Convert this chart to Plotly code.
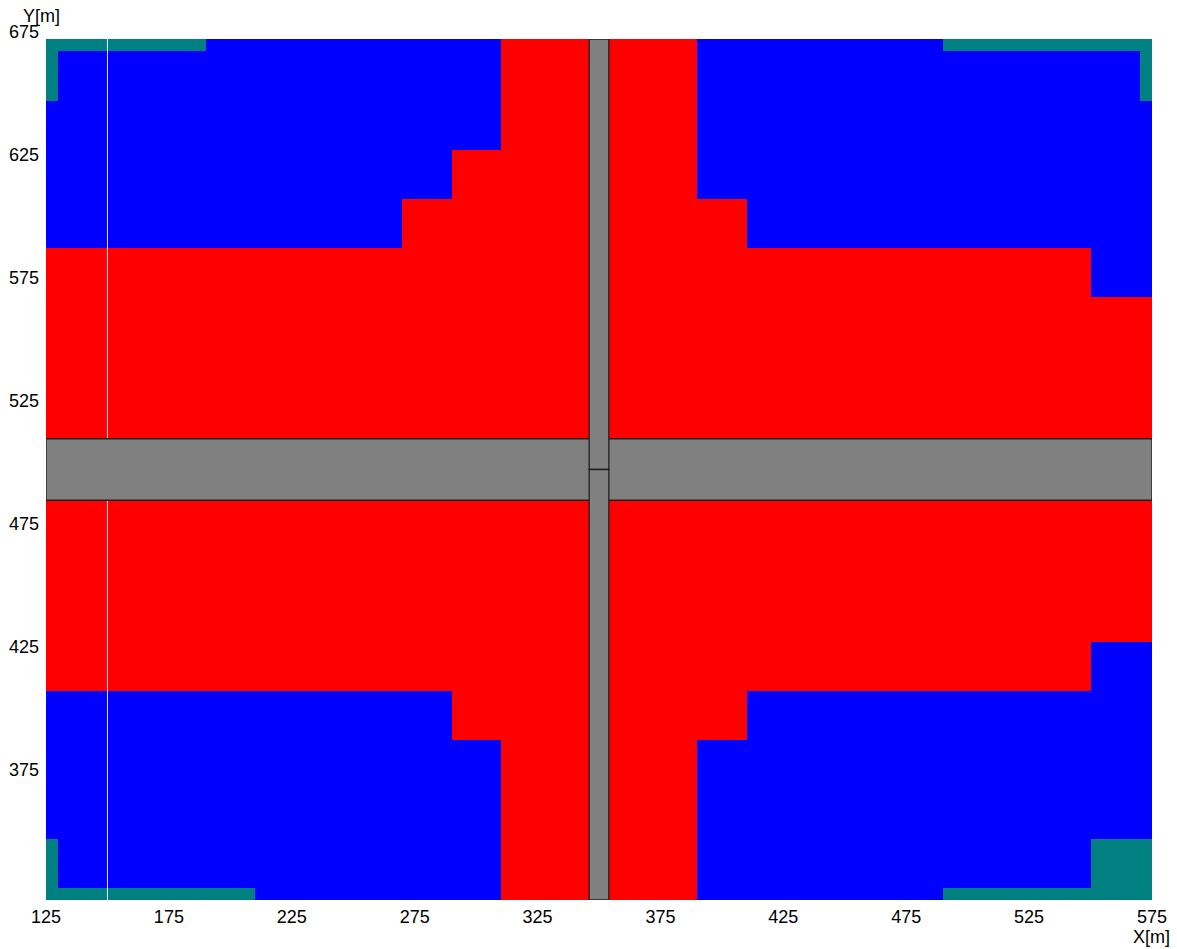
import plotly.graph_objects as go

# ---- data ----
x_centers = [120, 140, 160, 180, 200, 220, 240, 260, 280, 300, 320, 340,
             360, 380, 400, 420, 440, 460, 480, 500, 520, 540, 560, 580]
y_centers = [680, 660, 640, 620, 600, 580, 560, 540, 520, 500,
             480, 460, 440, 420, 400, 380, 360, 340, 320]
# zone code per cell: B = blue, R = red, T = teal
zone_rows = [
    "TTTTBBBBBBRRRRBBBBBTTTTT",  # 680
    "TBBBBBBBBBRRRRBBBBBBBBBT",  # 660
    "BBBBBBBBBBRRRRBBBBBBBBBB",  # 640
    "BBBBBBBBBRRRRRBBBBBBBBBB",  # 620
    "BBBBBBBBRRRRRRRBBBBBBBBB",  # 600
    "RRRRRRRRRRRRRRRRRRRRRRBB",  # 580
    "RRRRRRRRRRRRRRRRRRRRRRRR",  # 560
    "RRRRRRRRRRRRRRRRRRRRRRRR",  # 540
    "RRRRRRRRRRRRRRRRRRRRRRRR",  # 520
    "RRRRRRRRRRRRRRRRRRRRRRRR",  # 500
    "RRRRRRRRRRRRRRRRRRRRRRRR",  # 480
    "RRRRRRRRRRRRRRRRRRRRRRRR",  # 460
    "RRRRRRRRRRRRRRRRRRRRRRRR",  # 440
    "RRRRRRRRRRRRRRRRRRRRRRBB",  # 420
    "BBBBBBBBBRRRRRRBBBBBBBBB",  # 400
    "BBBBBBBBBBRRRRBBBBBBBBBB",  # 380
    "BBBBBBBBBBRRRRBBBBBBBBBB",  # 360
    "TBBBBBBBBBRRRRBBBBBBBBTT",  # 340
    "TTTTTBBBBBRRRRBBBBBTTTTT",  # 320
]
zone_codes = {"B": 0, "R": 1, "T": 2}

x_ticks = [125, 175, 225, 275, 325, 375, 425, 475, 525, 575]
y_ticks = [375, 425, 475, 525, 575, 625, 675]
x_range = [125, 575]
y_range = [325, 675]

# roads (x0, x1, y0, y1)
road_horizontal = [(125, 575, 487.5, 512.5)]
road_vertical = [(346, 354, 500, 675), (346, 354, 325, 500)]
white_line_x = [150]

z = [[zone_codes[c] for c in row] for row in zone_rows]

colorscale = [[0, "#0000FF"], [1/3, "#0000FF"],
              [1/3, "#FF0000"], [2/3, "#FF0000"],
              [2/3, "#008080"], [1, "#008080"]]

fig = go.Figure()
fig.add_trace(go.Heatmap(x=x_centers, y=y_centers, z=z, zmin=-0.5, zmax=2.5,
                         colorscale=colorscale, showscale=False,
                         hoverinfo="skip"))

for xv in white_line_x:
    fig.add_shape(type="line", x0=xv, x1=xv, y0=y_range[0], y1=y_range[1],
                  line=dict(color="#E8E8FF", width=1))
for (x0, x1, y0, y1) in road_horizontal:
    fig.add_shape(type="rect", x0=x0, x1=x1, y0=y0, y1=y1,
                  fillcolor="#808080", line=dict(color="#202020", width=1.3))
for (x0, x1, y0, y1) in road_vertical:
    fig.add_shape(type="rect", x0=x0, x1=x1, y0=y0, y1=y1,
                  fillcolor="#808080", line=dict(color="#202020", width=1.3))

font = dict(family="Arial, Liberation Sans, sans-serif", size=18, color="#000000")

fig.update_xaxes(range=x_range, tickvals=x_ticks, ticktext=[str(v) for v in x_ticks],
                 showgrid=False, zeroline=False, ticks="", showline=False,
                 tickfont=font, automargin=False, ticklabelstandoff=4)
fig.update_yaxes(range=y_range, tickvals=y_ticks, ticktext=[str(v) for v in y_ticks],
                 showgrid=False, zeroline=False, ticks="", showline=False,
                 tickfont=font, ticklabelshift=-7, ticklabelstandoff=6,
                 automargin=False)

fig.add_annotation(text="Y[m]", xref="paper", yref="paper", x=0, y=1,
                   xanchor="center", yanchor="middle", xshift=-5, yshift=23,
                   showarrow=False, font=font)
fig.add_annotation(text="X[m]", xref="paper", yref="paper", x=1, y=0,
                   xanchor="center", yanchor="middle", xshift=-1, yshift=-37,
                   showarrow=False, font=font)

fig.update_layout(width=1177, height=949, margin=dict(l=46, r=25, t=39, b=49),
                  paper_bgcolor="white", plot_bgcolor="white", showlegend=False)

fig.write_html("out.html", config={"displayModeBar": False},
               post_script="document.body.style.margin='0';document.body.style.overflow='hidden';")
